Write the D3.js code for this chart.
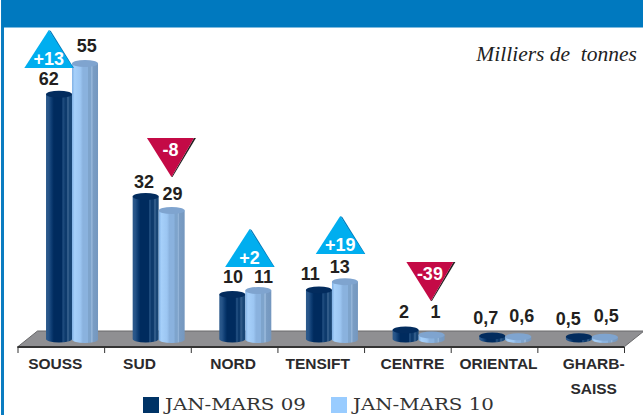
<!DOCTYPE html>
<html>
<head>
<meta charset="utf-8">
<script src="https://cdn.jsdelivr.net/npm/d3@7"></script>
<style>
  html, body { margin: 0; padding: 0; background: #fff; }
  svg { display: block; }
</style>
</head>
<body>
<svg width="643" height="415"></svg>
<script>
// Data
var categories = ["SOUSS", "SUD", "NORD", "TENSIFT", "CENTRE", "ORIENTAL", "GHARB-|SAISS"];
var seriesNames = ["JAN-MARS 09", "JAN-MARS 10"];
// the drawn heights; SOUSS is printed the other way round in the original
var heights09 = [55, 32, 10, 11, 2, 0.7, 0.5];
var heights10 = [62, 29, 11, 13, 1, 0.6, 0.5];
var labels09 = ["62", "32", "10", "11", "2", "0,7", "0,5"];
var labels10 = ["55", "29", "11", "13", "1", "0,6", "0,5"];
var changes = ["+13", "-8", "+2", "+19", "-39"];
var unitLabel = "Milliers de  tonnes";

// Layout nudges, not data
var labelDx09 = [-10.2, -1.7, 0.7, -8.7, -1.7, -6.4, -10.7];
var labelDx10 = [1.8, 0.8, 5.3, -5.3, 3.9, 3.6, 1.3];
var labelDy09 = [-5.75, -5, -8, -6.5, -8.6, -8.4, -8.3];
var labelDy10 = [-8, -7, -4, -5, -13.5, -11.3, -11.8];
var changeAnchor = [[-23.2, 68], [12.8, 138], [4.3, 267], [8.3, 254], [12.3, 262]];
var categoryDx = [-5.5, -8, -1, -3, 5, 4.5, 13];

var width = 643, height = 415;
var svg = d3.select("svg");
var defs = svg.append("defs");

// horizontal gradients with hard stops give the striped cylinder look
function cylinderGradient(id, stops) {
    var g = defs.append("linearGradient").attr("id", id)
        .attr("x1", 0).attr("x2", 1).attr("y1", 0).attr("y2", 0);
    stops.forEach(function (s) {
        g.append("stop").attr("offset", s[0]).attr("stop-color", s[1]);
    });
}
cylinderGradient("dark", [
    [0, "#2c5a8c"], [0.1, "#265488"], [0.22, "#0b3a70"], [0.3, "#002b5e"], [0.62, "#002b5e"],
    [0.64, "#1d4a7c"], [0.7, "#1d4a7c"], [0.72, "#0d3a6c"], [0.8, "#0d3a6c"], [0.82, "#2f5a88"],
    [0.88, "#2f5a88"], [0.9, "#184676"], [1, "#184676"]
]);
cylinderGradient("light", [
    [0, "#7fb0e4"], [0.1, "#a6d0fa"], [0.32, "#9cc6f2"], [0.42, "#8ab2de"], [0.6, "#8ab2de"],
    [0.62, "#7ea4cc"], [0.72, "#7ea4cc"], [0.74, "#93b4d8"], [0.78, "#93b4d8"], [0.8, "#7a9dc4"],
    [1, "#7497bf"]
]);

// Frame
svg.append("rect").attr("x", 1).attr("y", 0).attr("width", 3).attr("height", height).attr("fill", "#0a7cc1");
svg.append("rect").attr("x", 2).attr("y", 0).attr("width", width - 2).attr("height", 27.5).attr("fill", "#0079bf");

// Scales
var xEdge = d3.scaleLinear().domain([0, categories.length]).range([17.5, 624]);
var xCat = d3.scaleBand().domain(categories).range([17.5, 624]);
var yHeight = d3.scaleLinear().domain([0, 62]).range([0, 276]);
var floorTop = 331, floorBottom = 347, depth = 20;
var barW = 26, ry = 3.5;
var base09 = 339, base10 = 339.5;
var barShift = 11.2;

// Floor
svg.append("path")
    .attr("d", d3.line()([[17.5, floorBottom], [17.5 + depth, floorTop], [624 + depth, floorTop], [624, floorBottom]]) + "Z")
    .attr("fill", "#8f8f92")
    .attr("stroke", "#68686a")
    .attr("stroke-width", 1);

// Axis, ticks fall on the edges between the categories
var axis = svg.append("g")
    .attr("transform", "translate(0," + floorBottom + ")")
    .call(d3.axisBottom(xEdge).ticks(categories.length).tickSize(6).tickFormat(""));
axis.selectAll("line").attr("stroke", "#333").attr("stroke-width", 1);
axis.select(".domain").attr("stroke", "#333").attr("stroke-width", 2).attr("d", "M17.5,0H624");

// Cylinders
function drawCylinder(g, cx, base, h, grad, topFill) {
    var x0 = cx - barW / 2, x1 = cx + barW / 2;
    var yTop = base - h;
    g.append("path")
        .attr("d", "M" + x0 + "," + yTop + "L" + x0 + "," + base +
            "A" + barW / 2 + "," + ry + " 0 0 0 " + x1 + "," + base +
            "L" + x1 + "," + yTop + "Z")
        .attr("fill", "url(#" + grad + ")");
    g.append("ellipse")
        .attr("cx", cx).attr("cy", yTop).attr("rx", barW / 2).attr("ry", ry)
        .attr("fill", topFill);
}

var barsG = svg.append("g");
categories.forEach(function (c, i) {
    var center = xCat(c) + xCat.bandwidth() / 2 + barShift;
    drawCylinder(barsG, center - 13, base09, yHeight(heights09[i]), "dark", "#032c5e");
    drawCylinder(barsG, center + 13, base10, yHeight(heights10[i]), "light", "#7fa4cf");
});

// Value labels
function valueLabel(text, x, y) {
    svg.append("text")
        .attr("x", x).attr("y", y)
        .attr("text-anchor", "middle")
        .style("font-family", "'Liberation Sans'")
        .style("font-weight", "bold")
        .style("font-size", "18px")
        .style("fill", "#231f20")
        .text(text);
}
categories.forEach(function (c, i) {
    var center = xCat(c) + xCat.bandwidth() / 2 + barShift;
    valueLabel(labels09[i], center - 13 + labelDx09[i], base09 - yHeight(heights09[i]) - ry + labelDy09[i]);
    valueLabel(labels10[i], center + 13 + labelDx10[i], base10 - yHeight(heights10[i]) - ry + labelDy10[i]);
});

// Variation badges
changes.forEach(function (t, i) {
    var c = categories[i];
    var center = xCat(c) + xCat.bandwidth() / 2 + barShift + changeAnchor[i][0];
    var y = changeAnchor[i][1];
    var up = t.charAt(0) === "+";
    var half = 24.5, h = up ? 38 : 39;
    var tri;
    if (up) {
        tri = [[center - half, y], [center, y - h], [center + half, y]];
        svg.append("path")
            .attr("d", d3.line()([[center, y - h], [center + 2, y - h + 1], [center + half + 0.5, y], [center + half - 2, y]]) + "Z")
            .attr("fill", "#0078b8");
        svg.append("path").attr("d", d3.line()(tri) + "Z").attr("fill", "#00aeef");
    } else {
        tri = [[center - half, y], [center + half - 2, y], [center, y + h]];
        svg.append("path")
            .attr("d", d3.line()([[center + half - 2, y], [center + half, y], [center + 1, y + h], [center, y + h]]) + "Z")
            .attr("fill", "#231f20");
        svg.append("path").attr("d", d3.line()(tri) + "Z").attr("fill", "#c40a46");
    }
    svg.append("text")
        .attr("x", center + (up ? 0 : -1))
        .attr("y", up ? y - 3 : y + 18)
        .attr("text-anchor", "middle")
        .style("font-family", "'Liberation Sans'")
        .style("font-weight", "bold")
        .style("font-size", "18px")
        .style("fill", "#fff")
        .text(t);
});

// Category names
categories.forEach(function (c, i) {
    var parts = c.split("|");
    parts.forEach(function (p, k) {
        svg.append("text")
            .attr("x", xCat(c) + xCat.bandwidth() / 2 + categoryDx[i])
            .attr("y", 369 + k * 25)
            .attr("text-anchor", "middle")
            .style("font-family", "'Liberation Sans'")
            .style("font-weight", "bold")
            .style("font-size", "15.5px")
            .style("fill", "#2b2a2c")
            .text(p);
    });
});

// Unit
svg.append("text")
    .attr("x", 637).attr("y", 61)
    .attr("text-anchor", "end")
    .style("white-space", "pre")
    .style("font-family", "'Liberation Serif'")
    .style("font-style", "italic")
    .style("font-size", "21.5px")
    .style("fill", "#222")
    .text(unitLabel);

// Legend
var legendX = d3.scalePoint().domain(seriesNames).range([143, 331]);
var legendColors = d3.scaleOrdinal().domain(seriesNames).range(["#003366", "#99ccff"]);
seriesNames.forEach(function (s) {
    svg.append("rect")
        .attr("x", legendX(s)).attr("y", 397).attr("width", 16).attr("height", 16)
        .attr("fill", legendColors(s));
    svg.append("text")
        .attr("x", legendX(s) + 22).attr("y", 410)
        .attr("textLength", 141)
        .attr("lengthAdjust", "spacingAndGlyphs")
        .style("font-family", "'DejaVu Serif'")
        .style("font-size", "17px")
        .style("fill", "#333")
        .text(s);
});
</script>
</body>
</html>
